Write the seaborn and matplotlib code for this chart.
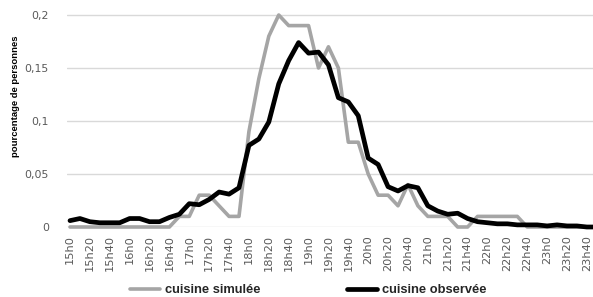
import numpy as np
import pandas as pd
import matplotlib
matplotlib.use("Agg")
import matplotlib.pyplot as plt
import seaborn as sns
from matplotlib.lines import Line2D

times = [f"{h}h{m}" for h in range(15, 24) for m in (0, 10, 20, 30, 40, 50)]

simulee = [0, 0, 0, 0, 0, 0, 0, 0, 0, 0,
           0, 0.01, 0.01, 0.03, 0.03, 0.02, 0.01, 0.01, 0.09, 0.14,
           0.18, 0.20, 0.19, 0.19, 0.19, 0.15, 0.17, 0.15, 0.08, 0.08,
           0.05, 0.03, 0.03, 0.02, 0.04, 0.02, 0.01, 0.01, 0.01, 0,
           0, 0.01, 0.01, 0.01, 0.01, 0.01, 0, 0, 0, 0,
           0, 0, 0, 0]

observee = [0.006, 0.008, 0.005, 0.004, 0.004, 0.004, 0.008, 0.008, 0.005, 0.005,
            0.009, 0.012, 0.022, 0.021, 0.026, 0.033, 0.031, 0.037, 0.077, 0.083,
            0.099, 0.135, 0.157, 0.174, 0.164, 0.165, 0.153, 0.122, 0.118, 0.105,
            0.065, 0.059, 0.038, 0.034, 0.039, 0.037, 0.020, 0.015, 0.012, 0.013,
            0.008, 0.005, 0.004, 0.003, 0.003, 0.002, 0.002, 0.002, 0.001, 0.002,
            0.001, 0.001, 0.0, 0.0]

series_names = ["cuisine simulée", "cuisine observée"]
yticks = [0, 0.05, 0.1, 0.15, 0.2]
ytick_labels = ["0", "0,05", "0,1", "0,15", "0,2"]

df = pd.DataFrame({
    "idx": list(range(len(times))) * 2,
    "val": simulee + observee,
    "serie": [series_names[0]] * len(times) + [series_names[1]] * len(times),
})

sns.set_style("white")
plt.rcParams["font.family"] = ["DejaVu Sans"]

W, H = 593, 297
fig = plt.figure(figsize=(W / 100, H / 100), dpi=100)
x0_px, xstep = 70.0, 9.94
left_px = 67.0
ax_left = left_px / W
xlim_left = (left_px - x0_px) / xstep
xlim_right = (W - x0_px) / xstep
y0_px, yscale = 227.0, 1060.0
top_px = 9.7
ax = fig.add_axes([ax_left, (H - y0_px) / H, 1 - ax_left, (y0_px - top_px) / H])

palette = {series_names[0]: "#a5a5a5", series_names[1]: "#000000"}
sns.lineplot(data=df[df.serie == series_names[0]], x="idx", y="val", color=palette[series_names[0]],
             lw=2.6, ax=ax, legend=False, zorder=3, clip_on=False)
sns.lineplot(data=df[df.serie == series_names[1]], x="idx", y="val", color=palette[series_names[1]],
             lw=3.4, ax=ax, legend=False, zorder=4, clip_on=False)

ax.set_xlim(xlim_left, xlim_right)
ax.set_ylim(0, (y0_px - top_px) / yscale)
ax.set_yticks(yticks)
ax.set_yticklabels(ytick_labels, fontsize=7.8, color="#595959")
ax.set_xticks(list(range(0, len(times), 2)))
ax.set_xticklabels(times[::2], rotation=90, fontsize=8.2, color="#595959")
ax.tick_params(axis="both", length=0)
ax.tick_params(axis="x", pad=6)
ax.tick_params(axis="y", pad=13)
ax.yaxis.grid(True, color="#d9d9d9", lw=1.0)
ax.xaxis.grid(False)
for s in ax.spines.values():
    s.set_visible(False)
ax.set_xlabel("")
ax.set_ylabel("")

fig.text(16 / W, 1 - 96 / H, "pourcentage de personnes", rotation=90, ha="center", va="center",
         fontsize=6.8, fontweight="bold", family=["Liberation Sans", "DejaVu Sans"], color="#000000")

handles = [Line2D([], [], color=palette[series_names[0]], lw=2.6),
           Line2D([], [], color=palette[series_names[1]], lw=3.4)]
leg = fig.legend(handles, series_names, loc="center left", bbox_to_anchor=(125 / W, 1 - 290 / H),
                 borderaxespad=0, ncol=2, frameon=False, handlelength=2.3, handletextpad=0.4,
                 columnspacing=6.7,
                 prop={"family": ["Liberation Sans", "DejaVu Sans"], "size": 9.3, "weight": "bold"})
for t in leg.get_texts():
    t.set_color("#262626")

fig.savefig("out.png", dpi=100)
